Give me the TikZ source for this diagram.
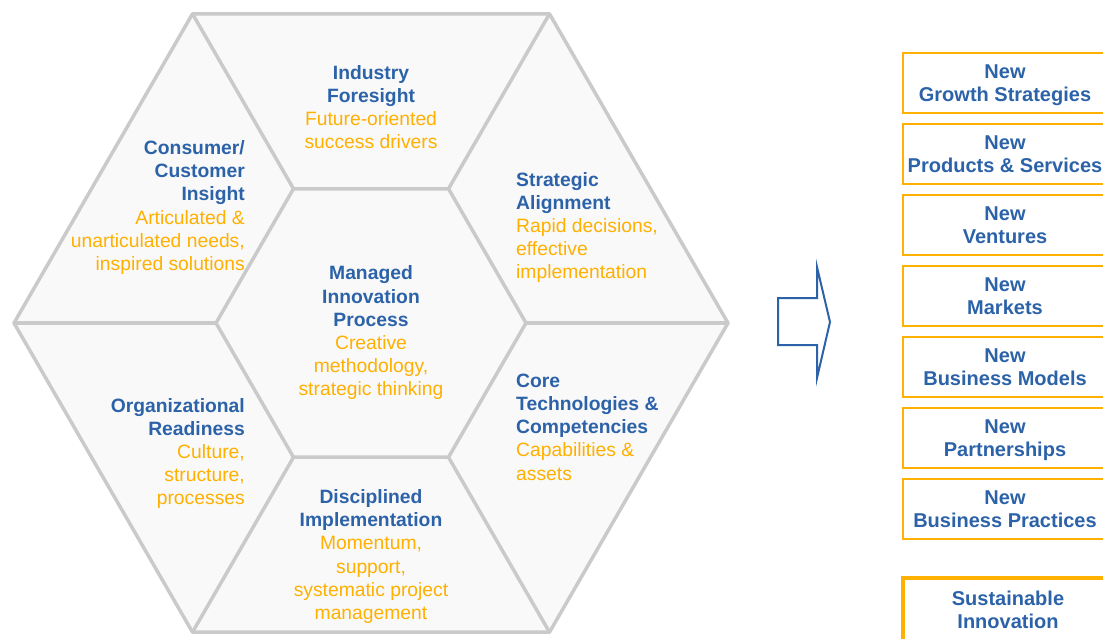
\documentclass[tikz,border=0pt]{standalone}
\usepackage{fontspec}
\setmainfont{Liberation Sans}
\usepackage{tikz}

\definecolor{hexblue}{RGB}{44,98,168}
\definecolor{hexorange}{RGB}{255,176,0}
\definecolor{hexgray}{RGB}{202,202,202}
\definecolor{hexfill}{RGB}{249,249,249}
\newcommand{\hd}[1]{\textcolor{hexblue}{\bfseries #1}}

\begin{document}
\begin{tikzpicture}[x=1pt,y=-1pt,
  hexline/.style={draw=hexgray,line width=3.5pt,line join=round},
  txt/.style={font=\fontsize{19.3}{23.2}\selectfont,text=hexorange,inner sep=0pt},
  newbox/.style={draw=hexorange,line width=2.5pt,minimum width=204pt,minimum height=60pt,
    inner sep=0pt,text depth=0pt,align=center,font=\fontsize{20}{23.2}\selectfont\bfseries,text=hexblue}]
  \useasboundingbox (0,0) rectangle (1103,638);

  \coordinate (c) at (371,323);
  \foreach \i in {0,...,5} {
    \coordinate (o\i) at ([shift={(\i*60:357)}]c);
    \coordinate (n\i) at ([shift={(\i*60:155)}]c);
  }
  \filldraw[hexline,fill=hexfill] (o0) -- (o1) -- (o2) -- (o3) -- (o4) -- (o5) -- cycle;
  \draw[hexline] (n0) -- (n1) -- (n2) -- (n3) -- (n4) -- (n5) -- cycle;
  \foreach \i in {0,...,5} {
    \draw[hexline] (n\i) -- (o\i);
  }

  \node[txt,align=center] (foresight) at (371,107)
    {\hd{Industry}\\\hd{Foresight}\\Future-oriented\\success drivers};
  \node[txt,align=right,anchor=east] (insight) at (245,207.5)
    {\hd{Consumer/}\\\hd{Customer}\\\hd{Insight}\\Articulated \&\\unarticulated needs,\\inspired solutions};
  \node[txt,align=left,anchor=west] (alignment) at (516,227.5)
    {\hd{Strategic}\\\hd{Alignment}\\Rapid decisions,\\effective\\implementation};
  \node[txt,align=center] (process) at (371,333)
    {\hd{Managed}\\\hd{Innovation}\\\hd{Process}\\Creative\\methodology,\\strategic thinking};
  \node[txt,align=right,anchor=east] (readiness) at (245,453.5)
    {\hd{Organizational}\\\hd{Readiness}\\Culture,\\structure,\\processes};
  \node[txt,align=left,anchor=west] (core) at (516,427)
    {\hd{Core}\\\hd{Technologies \&}\\\hd{Competencies}\\Capabilities \&\\assets};
  \node[txt,align=center] (implementation) at (371,556.5)
    {\hd{Disciplined}\\\hd{Implementation}\\Momentum,\\support,\\systematic project\\management};

  % block arrow
  \draw[hexblue,line width=2pt,line join=miter]
    (778,298) -- (817,298) -- (817,267) -- (830,322) -- (817,378) -- (817,345) -- (778,345) -- cycle;

  \foreach \name/\txt [count=\k from 0] in {growth/Growth Strategies,products/Products \& Services,
      ventures/Ventures,markets/Markets,models/Business Models,partnerships/Partnerships,
      practices/Business Practices} {
    \node[newbox] (\name) at (1005,83+71*\k) {New\\\txt};
  }
  \node[newbox,line width=4.5pt,minimum width=210pt,minimum height=64pt] (sustainable) at (1008,610)
    {Sustainable\\Innovation};
\end{tikzpicture}
\end{document}
